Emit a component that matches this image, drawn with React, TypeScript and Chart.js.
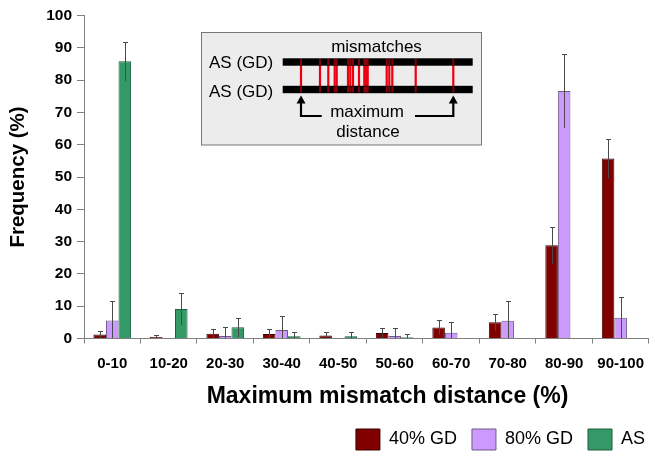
import { useEffect, useRef } from "react";
import { Chart, registerables } from "chart.js";

Chart.register(...registerables);

const FONT = 'Arial, "Liberation Sans", Helvetica, sans-serif';

const categories = ["0-10", "10-20", "20-30", "30-40", "40-50", "50-60", "60-70", "70-80", "80-90", "90-100"];
const seriesNames = ["40% GD", "80% GD", "AS"];
const gd40 = [1.2, 0.5, 1.5, 1.4, 0.9, 1.7, 3.4, 5.0, 28.9, 55.7];
const gd40Err = [1.1, 0.7, 1.4, 1.5, 1.2, 1.7, 2.2, 2.7, 5.7, 6.1];
const gd80 = [5.6, 0, 0.8, 2.6, 0, 0.8, 1.8, 5.5, 76.6, 6.4];
const gd80Err = [5.9, 0, 2.7, 4.3, 0, 2.6, 3.4, 6.0, 11.4, 6.4];
const as = [85.8, 9.1, 3.5, 0.7, 0.7, 0.4, 0, 0, 0, 0];
const asErr = [6.1, 4.9, 3.0, 1.4, 1.4, 1.1, 0, 0, 0, 0];
const yTicks = [0, 10, 20, 30, 40, 50, 60, 70, 80, 90, 100];
const xTitle = "Maximum mismatch distance (%)";
const yTitle = "Frequency (%)";

// inset diagram: mismatch positions along the strand (px from strand start)
const mismatchOffsets = [18.3, 37.3, 45.6, 52, 54, 65.3, 67.6, 70.3, 76.3, 81.6, 83.3, 85, 104, 106.6, 109.6, 133, 170.6];

const errorSets = [gd40Err, gd80Err, asErr];

const errorBarsPlugin = {
  id: "errorBars",
  afterDatasetsDraw(chart: any) {
    const { ctx, chartArea, scales } = chart;
    const y = scales.y;
    ctx.save();
    ctx.beginPath();
    ctx.rect(chartArea.left, chartArea.top - 5, chartArea.right - chartArea.left, chartArea.bottom - chartArea.top + 5);
    ctx.clip();
    ctx.strokeStyle = "#4a4a4a";
    ctx.lineWidth = 1;
    chart.data.datasets.forEach((ds: any, di: number) => {
      const meta = chart.getDatasetMeta(di);
      const errs = errorSets[di];
      meta.data.forEach((bar: any, i: number) => {
        const v = ds.data[i];
        const e = errs[i];
        if (!v || !e) return;
        const x = Math.round(bar.x) + 0.5;
        const yt = Math.round(y.getPixelForValue(v + e)) + 0.5;
        const yb = y.getPixelForValue(Math.max(v - e, 0));
        ctx.beginPath();
        ctx.moveTo(x, yb);
        ctx.lineTo(x, yt);
        ctx.moveTo(x - 2.5, yt);
        ctx.lineTo(x + 2.5, yt);
        ctx.stroke();
      });
    });
    ctx.restore();
  },
};

const xTitlePlugin = {
  id: "xTitle",
  afterDraw(chart: any) {
    const ctx = chart.ctx;
    ctx.save();
    ctx.fillStyle = "#000";
    ctx.font = `bold 23px ${FONT}`;
    ctx.textAlign = "center";
    ctx.textBaseline = "middle";
    ctx.fillText(xTitle, 387.5, 397);
    ctx.restore();
  },
};

const legendShiftPlugin = {
  id: "legendShift",
  afterLayout(chart: any) {
    if (chart.legend) {
      chart.legend.left += 5;
      chart.legend.right += 5;
    }
  },
};

const insetPlugin = {
  id: "inset",
  afterDraw(chart: any) {
    const ctx = chart.ctx;
    ctx.save();
    ctx.fillStyle = "#ececec";
    ctx.fillRect(201.5, 32.5, 280, 112.5);
    ctx.strokeStyle = "#777";
    ctx.lineWidth = 1;
    ctx.strokeRect(201.5, 32.5, 280, 112.5);

    const barL = 282.7;
    const barR = 472.7;
    ctx.strokeStyle = "#ee0010";
    ctx.lineWidth = 2.2;
    mismatchOffsets.forEach((o) => {
      ctx.beginPath();
      ctx.moveTo(barL + o, 60);
      ctx.lineTo(barL + o, 91);
      ctx.stroke();
    });
    ctx.fillStyle = "#000";
    ctx.fillRect(barL, 58.3, barR - barL, 7.4);
    ctx.fillRect(barL, 85.8, barR - barL, 7.4);
    ctx.strokeStyle = "rgba(238,0,16,0.55)";
    ctx.lineWidth = 2;
    mismatchOffsets.forEach((o) => {
      ctx.beginPath();
      ctx.moveTo(barL + o, 59);
      ctx.lineTo(barL + o, 65);
      ctx.moveTo(barL + o, 86.5);
      ctx.lineTo(barL + o, 92.5);
      ctx.stroke();
    });

    ctx.fillStyle = "#000";
    ctx.font = `17px ${FONT}`;
    ctx.textBaseline = "alphabetic";
    ctx.textAlign = "left";
    ctx.fillText("AS (GD)", 209, 67.8);
    ctx.fillText("AS (GD)", 209, 96.8);
    ctx.textAlign = "center";
    ctx.fillText("mismatches", 376.5, 51.5);
    ctx.fillText("maximum", 367, 117);
    ctx.fillText("distance", 368, 136.5);

    const lx = barL + mismatchOffsets[0];
    const rx = barL + mismatchOffsets[mismatchOffsets.length - 1];
    ctx.strokeStyle = "#000";
    ctx.lineWidth = 2.2;
    ctx.beginPath();
    ctx.moveTo(lx, 102);
    ctx.lineTo(lx, 116);
    ctx.lineTo(321.7, 116);
    ctx.moveTo(415, 116);
    ctx.lineTo(rx, 116);
    ctx.lineTo(rx, 102);
    ctx.stroke();
    [lx, rx].forEach((ax) => {
      ctx.beginPath();
      ctx.moveTo(ax, 95.5);
      ctx.lineTo(ax - 4.5, 103.5);
      ctx.lineTo(ax + 4.5, 103.5);
      ctx.closePath();
      ctx.fill();
    });
    ctx.restore();
  },
};

export default function App() {
  const ref = useRef<HTMLCanvasElement>(null);
  useEffect(() => {
    Chart.defaults.font.family = FONT;
    Chart.defaults.color = "#000";
    const chart = new Chart(ref.current as HTMLCanvasElement, {
      type: "bar",
      data: {
        labels: categories,
        datasets: [
          { label: seriesNames[0], data: gd40, backgroundColor: "#800000", borderColor: "#3d0000", borderWidth: 1 },
          { label: seriesNames[1], data: gd80, backgroundColor: "#cc99ff", borderColor: "#6b5a82", borderWidth: 1 },
          { label: seriesNames[2], data: as, backgroundColor: "#339966", borderColor: "#1d5c3c", borderWidth: 1 },
        ],
      },
      options: {
        responsive: false,
        animation: false,
        devicePixelRatio: 1,
        layout: { padding: { top: 15.5, left: 0, right: 0, bottom: 0 } },
        datasets: { bar: { barPercentage: 1, categoryPercentage: 0.667 } },
        plugins: {
          tooltip: { enabled: false },
          legend: {
            position: "bottom",
            align: "end",
            labels: {
              boxWidth: 24,
              boxHeight: 21,
              padding: 15,
              color: "#000",
              font: { size: 18, family: FONT },
            },
          },
        },
        scales: {
          x: {
            grid: { display: true, drawOnChartArea: false, drawTicks: true, tickLength: 5, color: "#808080", offset: true },
            border: { display: true, color: "#808080", width: 1 },
            ticks: { color: "#000", font: { size: 15, weight: "bold", family: FONT }, padding: 11, maxRotation: 0, autoSkip: false },
            title: { display: false },
            afterFit: (s: any) => {
              s.height = 75.5;
            },
          },
          y: {
            min: 0,
            max: 100,
            afterBuildTicks: (s: any) => {
              s.ticks = yTicks.map((v) => ({ value: v }));
            },
            grid: { display: true, drawOnChartArea: false, drawTicks: true, tickLength: 7, color: "#808080" },
            border: { display: true, color: "#808080", width: 1 },
            ticks: { color: "#000", font: { size: 15.5, weight: "bold", family: FONT }, padding: 5 },
            title: {
              display: true,
              text: yTitle,
              color: "#000",
              font: { size: 20.5, weight: "bold", family: FONT },
              padding: { top: 6, bottom: 0 },
            },
            afterFit: (s: any) => {
              s.width = 84;
            },
          },
        },
      },
      plugins: [errorBarsPlugin, insetPlugin, xTitlePlugin, legendShiftPlugin],
    } as any);
    return () => chart.destroy();
  }, []);
  return (
    <div style={{ position: "fixed", left: 0, top: 0, width: 655, height: 456, overflow: "hidden", background: "#fff" }}>
      <canvas ref={ref} width={655} height={460} style={{ display: "block", width: 655, height: 460 }} />
    </div>
  );
}
